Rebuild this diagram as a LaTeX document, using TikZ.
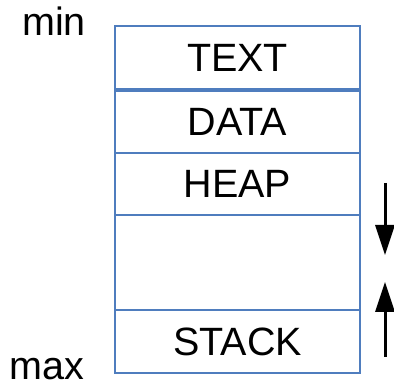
\documentclass[tikz,border=0pt]{standalone}
\usepackage{fontspec}
\setmainfont{Liberation Sans}
\usepackage{xcolor}
\usepackage{tikz}
\usetikzlibrary{arrows.meta,positioning}
\definecolor{segblue}{RGB}{79,125,190}

\begin{document}
\begin{tikzpicture}[
  x=1pt, y=1pt,
  node distance=0pt,
  seg/.style={draw=segblue, line width=1.6pt, minimum width=245pt, outer sep=0pt, inner sep=0pt, font=\fontsize{39.5}{44}\selectfont},
  lbl/.style={font=\fontsize{39.5}{44}\selectfont, anchor=base, inner sep=0pt},
  arr/.style={-{Triangle[length=30pt,width=19pt]}, line width=3pt}
]
  \useasboundingbox (0,0) rectangle (394,386);
  \node[seg, minimum height=63pt] (text) at (237.5,328.5) {TEXT};
  \node[seg, minimum height=62pt, below=2pt of text] (data) {DATA};
  \node[seg, minimum height=62pt, below=of data] (heap) {HEAP};
  \node[seg, minimum height=95pt, below=of heap] (free) {};
  \node[seg, minimum height=63pt, below=of free] (stack) {STACK};
  \node[lbl] (min) at (54,350) {min};
  \node[lbl] (max) at (46.5,6) {max};
  % growth arrows
  \coordinate (heaptop) at (385,203);
  \coordinate (heapend) at (385,131);
  \coordinate (stackbot) at (385,29);
  \coordinate (stackend) at (385,104);
  \draw[arr] (heaptop) -- (heapend);
  \draw[arr] (stackbot) -- (stackend);
\end{tikzpicture}
\end{document}
